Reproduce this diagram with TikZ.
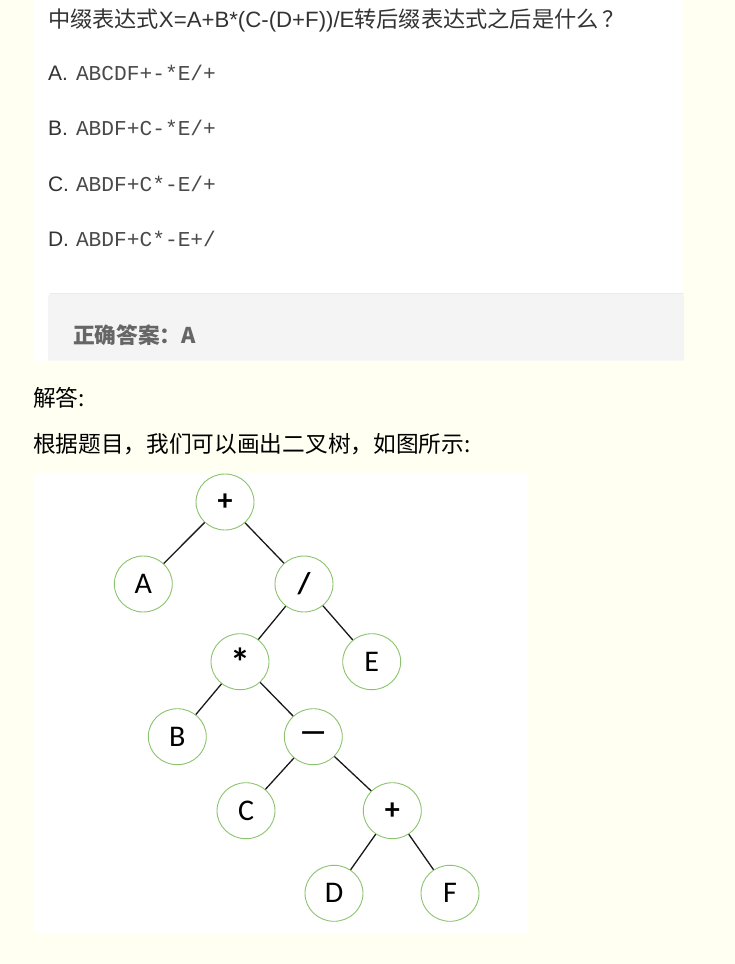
\documentclass[tikz,border=0pt]{standalone}
\usepackage{fontspec}
\setmainfont{Liberation Sans}
\setmonofont{Liberation Mono}
\newfontfamily\cjk{Noto Sans CJK SC}
\newfontfamily\treefont{Carlito}
\usetikzlibrary{shapes.geometric}
\definecolor{pagebg}{HTML}{FFFFF2}
\definecolor{answerbg}{HTML}{F4F4F4}
\definecolor{answerline}{HTML}{ECECEC}
\definecolor{textdark}{HTML}{333333}
\definecolor{monogray}{HTML}{4A4A4A}
\definecolor{answergray}{HTML}{666666}
\definecolor{nodegreen}{HTML}{8CC36E}
\begin{document}
\begin{tikzpicture}[x=1pt,y=-1pt,
  txt/.style={anchor=base west,inner sep=0pt,outer sep=0pt},
  tnode/.style={ellipse,draw=nodegreen,line width=0.9pt,fill=white,
    minimum width=58pt,minimum height=56pt,inner sep=0pt,
    font=\treefont\fontsize{30}{34}\selectfont},
  tedge/.style={draw=black!90,line width=1.3pt}]
\useasboundingbox (0,0) rectangle (735,964);
\fill[pagebg] (0,0) rectangle (735,964);
% question card
\fill[white] (33,0) rectangle (684,360.7);
\fill[answerbg,rounded corners=4pt] (48,360.7) -- (48,293.3) -- (684,293.3) [sharp corners] -- (684,360.7) -- cycle;
\draw[answerline,line width=0.6pt] (50,293.3) -- (684,293.3);
% texts
\node[txt,text=textdark,font=\fontsize{22.2}{26}\selectfont] (title) at (48,27)
  {{\cjk 中缀表达式}X=A+B*(C-(D+F))/E{\cjk 转后缀表达式之后是什么\,？}};
\node[txt,text=textdark,font=\fontsize{21}{25}\selectfont] (la) at (48,80) {A.};
\node[txt,text=monogray,font=\ttfamily\fontsize{21.2}{25}\selectfont] (oa) at (76,80) {ABCDF+-*E/+};
\node[txt,text=textdark,font=\fontsize{21}{25}\selectfont] (lb) at (48,135.6) {B.};
\node[txt,text=monogray,font=\ttfamily\fontsize{21.2}{25}\selectfont] (ob) at (76,135.6) {ABDF+C-*E/+};
\node[txt,text=textdark,font=\fontsize{21}{25}\selectfont] (lc) at (48,191.2) {C.};
\node[txt,text=monogray,font=\ttfamily\fontsize{21.2}{25}\selectfont] (oc) at (76,191.2) {ABDF+C*-E/+};
\node[txt,text=textdark,font=\fontsize{21}{25}\selectfont] (ld) at (48,246.8) {D.};
\node[txt,text=monogray,font=\ttfamily\fontsize{21.2}{25}\selectfont] (od) at (76,246.8) {ABDF+C*-E+/};
\node[txt,text=answergray,font=\cjk\bfseries\fontsize{21.7}{26}\selectfont] (ans) at (73,343) {正确答案：A};
\node[txt,text=black,font=\cjk\fontsize{22.7}{26}\selectfont] (jd) at (33,406) {解答:};
\node[txt,text=black,font=\cjk\fontsize{22.7}{26}\selectfont] (gj) at (33,452) {根据题目，我们可以画出二叉树，如图所示:};
% tree area
\fill[white] (33,473) rectangle (528,933);
\node[tnode] (root) at (225,502) {\bfseries +};
\node[tnode] (A) at (143.3,584) {A};
\node[tnode] (div) at (304,584) {\bfseries /};
\node[tnode] (mul) at (240,661.7) {\bfseries\fontsize{40}{40}\selectfont *};
\node[tnode] (E) at (371.7,661.7) {E};
\node[tnode] (B) at (177.3,736.7) {B};
\node[tnode] (minus) at (313.3,736.7) {\bfseries —};
\node[tnode] (C) at (246,810.7) {C};
\node[tnode] (plus) at (392.3,810.7) {\bfseries +};
\node[tnode] (D) at (334,893.3) {D};
\node[tnode] (F) at (450,893.3) {F};
\draw[tedge] (root) -- (A);
\draw[tedge] (root) -- (div);
\draw[tedge] (div) -- (mul);
\draw[tedge] (div) -- (E);
\draw[tedge] (mul) -- (B);
\draw[tedge] (mul) -- (minus);
\draw[tedge] (minus) -- (C);
\draw[tedge] (minus) -- (plus);
\draw[tedge] (plus) -- (D);
\draw[tedge] (plus) -- (F);
\end{tikzpicture}
\end{document}
